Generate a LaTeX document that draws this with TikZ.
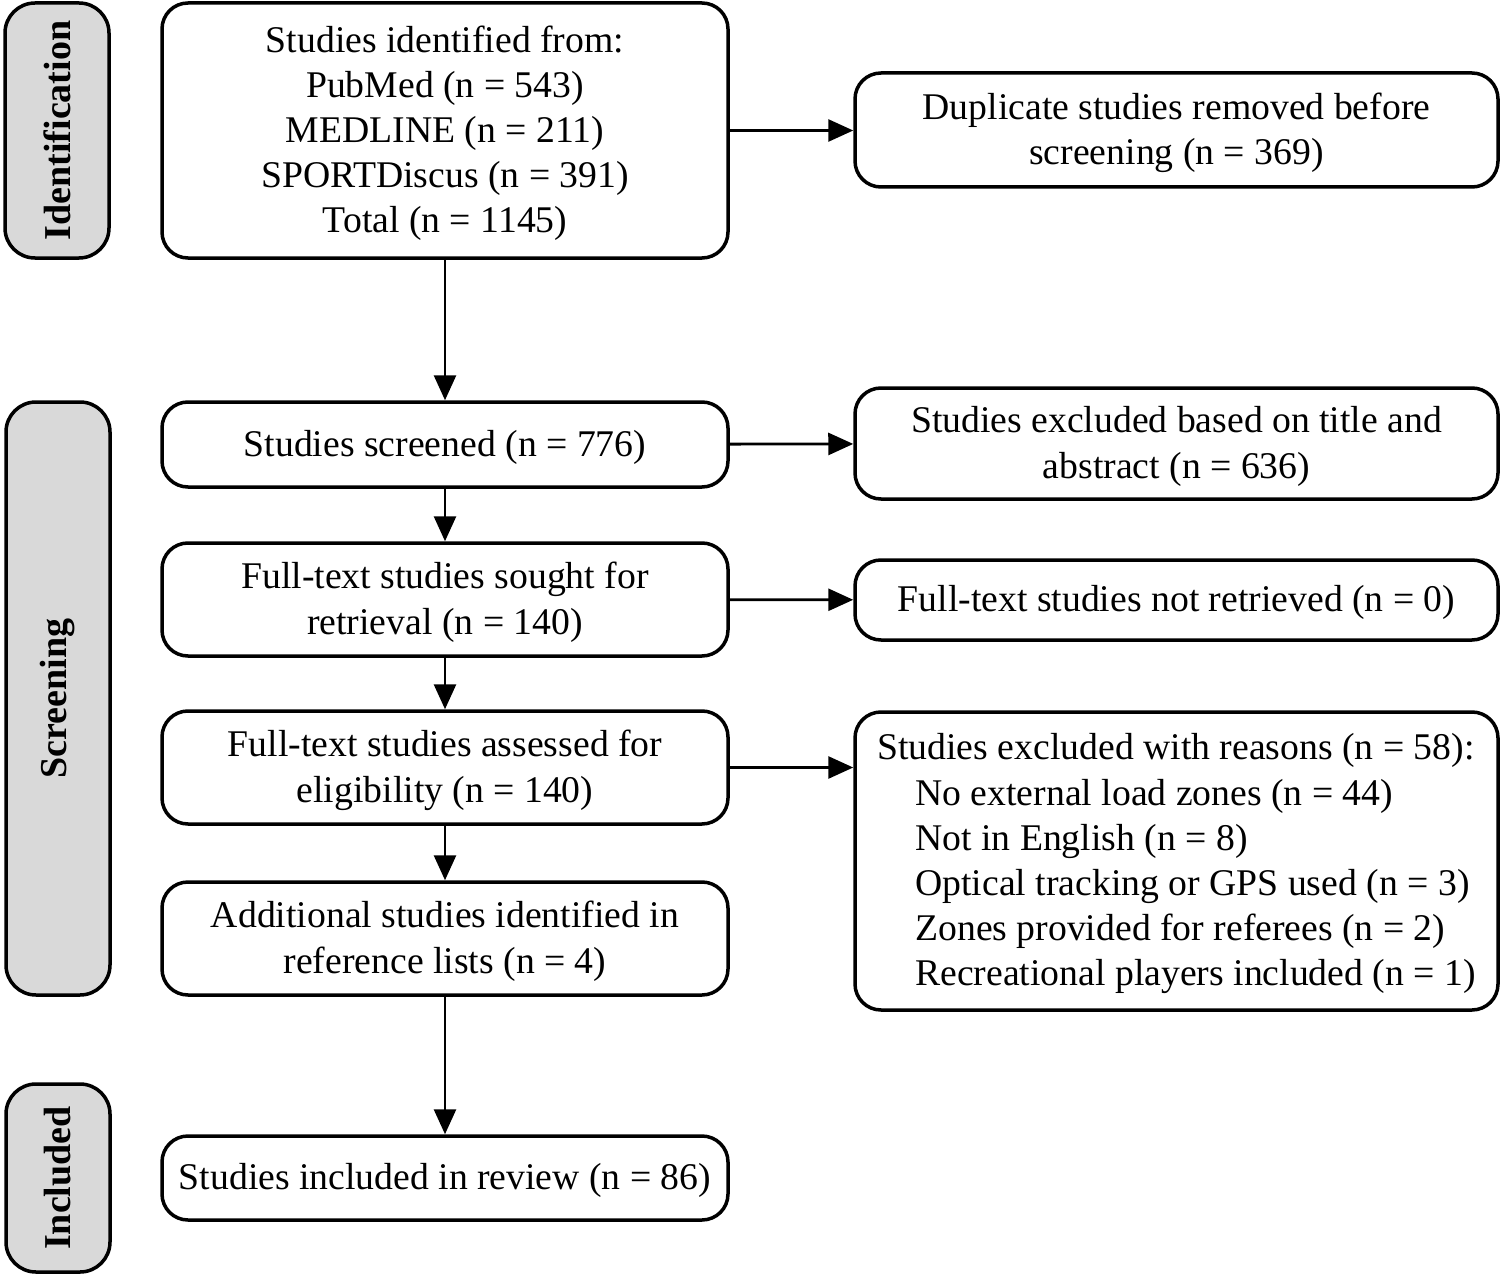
\documentclass[tikz,border=0pt]{standalone}
\usepackage{fontspec}
\setmainfont{Liberation Serif}
\usetikzlibrary{arrows.meta}
\newcommand\topgap{\rule{0pt}{32pt}}
\begin{document}
\begin{tikzpicture}[x=1pt,y=-1pt,
  box/.style={draw, line width=3.5pt, rounded corners=26pt, fill=white,
    align=center, inner sep=0pt, font=\fontsize{37.7}{45.2}\selectfont},
  mainbox/.style={box, minimum width=566pt},
  sidebox/.style={box, minimum width=643pt},
  phase/.style={draw, line width=3.5pt, rounded corners=30pt, fill=black!15,
    rotate=90, minimum height=104pt, inner sep=0pt,
    font=\fontsize{38}{45}\selectfont\bfseries},
  arr/.style={line width=2.8pt, -{Triangle[length=25pt,width=22pt]}}]
\useasboundingbox (0,0) rectangle (1502,1276);

% phase labels
\node[phase, minimum width=255pt] (pid) at (57,130.5) {Identification};
\node[phase, minimum width=593pt] (pscr) at (58,698.5) {Screening};
\node[phase, minimum width=188pt] (pinc) at (58,1178) {Included};

% main column
\node[mainbox, minimum height=255pt] (b1) at (445,130.5)
  {\topgap Studies identified from:\\PubMed (n = 543)\\MEDLINE (n = 211)\\SPORTDiscus (n = 391)\\Total (n = 1145)};
\node[mainbox, minimum height=85pt] (b2) at (445,444.5) {\topgap Studies screened (n = 776)};
\node[mainbox, minimum height=113pt] (b3) at (445,599.5) {\topgap Full-text studies sought for\\retrieval (n = 140)};
\node[mainbox, minimum height=113pt] (b4) at (445,767.5) {\topgap Full-text studies assessed for\\eligibility (n = 140)};
\node[mainbox, minimum height=113pt] (b5) at (445,938.5) {\topgap Additional studies identified in\\reference lists (n = 4)};
\node[mainbox, minimum height=84pt] (b6) at (445,1178) {\topgap Studies included in review (n = 86)};

% right column
\node[sidebox, minimum height=114pt] (r1) at (1176.5,130) {\topgap Duplicate studies removed before\\screening (n = 369)};
\node[sidebox, minimum height=111pt] (r2) at (1176.5,443.5) {\topgap Studies excluded based on title and\\abstract (n = 636)};
\node[sidebox, minimum height=80pt] (r3) at (1176.5,600) {\topgap Full-text studies not retrieved (n = 0)};
\node[sidebox, minimum height=298pt, align=left] (r4) at (1176.5,861)
  {\topgap Studies excluded with reasons (n = 58):\\
   \hspace*{38pt}No external load zones (n = 44)\\
   \hspace*{38pt}Not in English (n = 8)\\
   \hspace*{38pt}Optical tracking or GPS used (n = 3)\\
   \hspace*{38pt}Zones provided for referees (n = 2)\\
   \hspace*{38pt}Recreational players included (n = 1)};

% connectors
\draw[arr] (b1) -- (b1.east -| r1.west);
\draw[arr] (b1) -- (b2);
\draw[arr] (b2) -- (r2);
\draw[arr] (b2) -- (b3);
\draw[arr] (b3) -- (r3);
\draw[arr] (b3) -- (b4);
\draw[arr] (b4.east) -- (b4.east -| r4.west);
\draw[arr] (b4) -- (b5);
\draw[arr] (b5) -- (b6);
\end{tikzpicture}
\end{document}
